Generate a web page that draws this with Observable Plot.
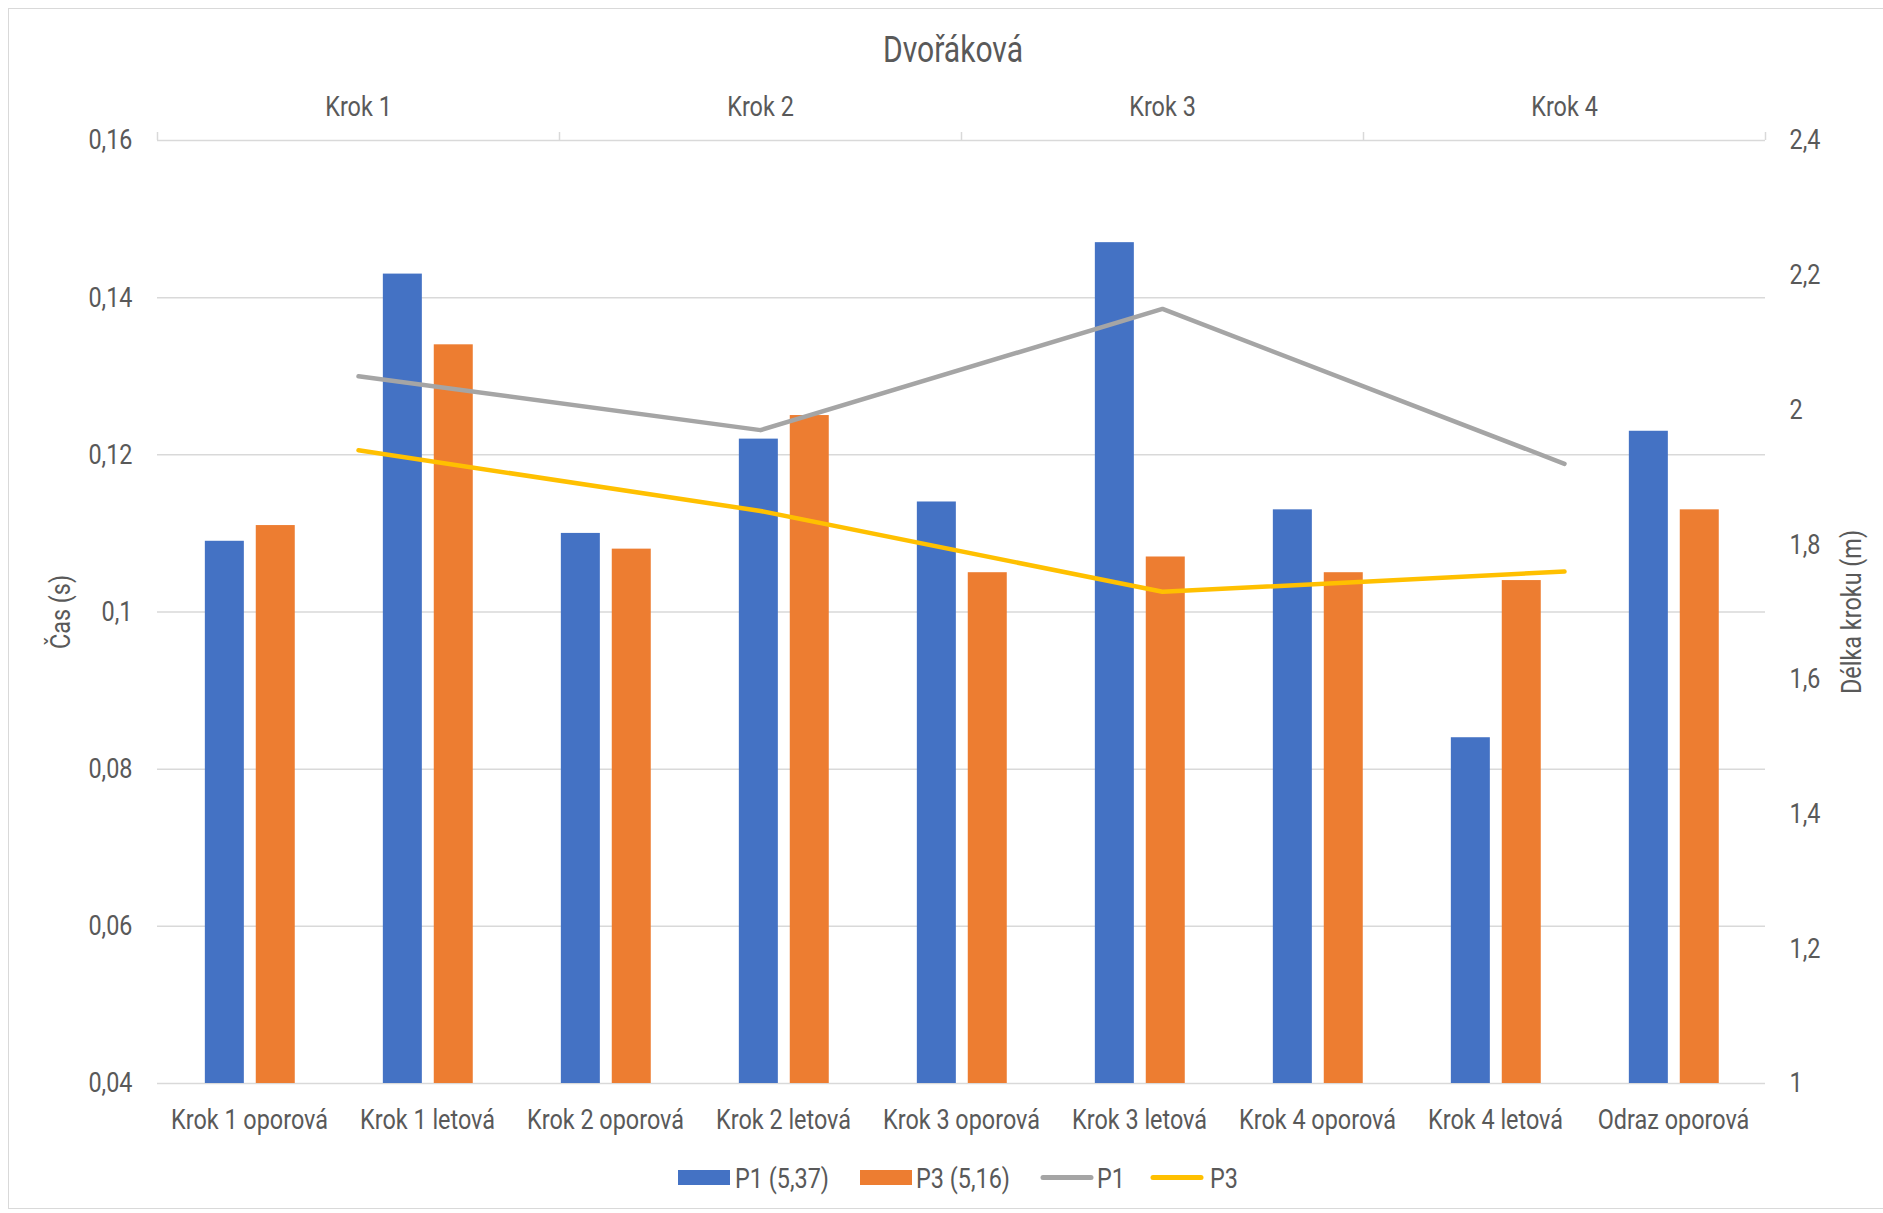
<!DOCTYPE html>
<html>
<head>
<meta charset="utf-8">
<script src="https://cdn.jsdelivr.net/npm/d3@7"></script>
<script src="https://cdn.jsdelivr.net/npm/@observablehq/plot@0.6"></script>
<style>
  html, body { margin: 0; padding: 0; background: #ffffff; }
  #chart { position: relative; width: 1883px; height: 1213px; overflow: hidden; background: #ffffff; }
  #frame { position: absolute; left: 8px; top: 8px; width: 1900px; height: 1201px; border: 1.5px solid #d9d9d9; box-sizing: border-box; }
  .layer { position: absolute; left: 0; top: 0; }
  svg text { font-weight: 400; }
</style>
</head>
<body>
<div id="chart">
  <div id="frame"></div>
  <div id="bars" class="layer"></div>
  <div id="lines" class="layer"></div>
  <div id="extras" class="layer"></div>
</div>
<script>
// ---- data ----
const categories = ["Krok 1 oporová", "Krok 1 letová", "Krok 2 oporová", "Krok 2 letová", "Krok 3 oporová",
                    "Krok 3 letová", "Krok 4 oporová", "Krok 4 letová", "Odraz oporová"];
const p1Times = [0.109, 0.143, 0.110, 0.122, 0.114, 0.147, 0.113, 0.084, 0.123];
const p3Times = [0.111, 0.134, 0.108, 0.125, 0.105, 0.107, 0.105, 0.104, 0.113];
const steps = ["Krok 1", "Krok 2", "Krok 3", "Krok 4"];
const p1Length = [2.05, 1.97, 2.15, 1.92];
const p3Length = [1.94, 1.85, 1.73, 1.76];
const leftTicks = [0.04, 0.06, 0.08, 0.10, 0.12, 0.14, 0.16];
const rightTicks = [1, 1.2, 1.4, 1.6, 1.8, 2, 2.2, 2.4];
const titleText = "Dvořáková";
const seriesNames = ["P1 (5,37)", "P3 (5,16)", "P1", "P3"];
const seriesColors = ["#4472c4", "#ed7d31", "#a5a5a5", "#ffc000"];

// ---- layout ----
const W = 1883, H = 1213;
const mL = 157, mR = 118, mT = 140, mB = 130;
const fontFamily = "Roboto, 'DejaVu Sans Condensed', sans-serif";
const textColor = "#595959";
const fmt = d => String(+d.toFixed(3)).replace(".", ",");
const band = (W - mL - mR) / categories.length;
const stepW = (W - mL - mR) / steps.length;
const yMin = leftTicks[0];

// condensed look: measure a sample and squeeze all text horizontally
function measure(str, size) {
  const svg = d3.select("body").append("svg").attr("width", 10).attr("height", 10);
  const t = svg.append("text").attr("font-family", fontFamily).attr("font-size", size)
    .attr("font-weight", 400).text(str);
  const L = t.node().getComputedTextLength();
  svg.remove();
  return L;
}
const squeeze = 157 / measure("Krok 1 oporová", 28);
function narrow(root) {
  root.querySelectorAll("text").forEach(t => {
    const L = t.getComputedTextLength();
    if (L > 0) {
      t.setAttribute("textLength", (L * squeeze).toFixed(2));
      t.setAttribute("lengthAdjust", "spacingAndGlyphs");
    }
  });
}

const barRows = categories.map((c, i) => ({category: c, p1: p1Times[i], p3: p3Times[i]}));
const lineRows = steps.map((s, i) => ({step: s, p1: p1Length[i], p3: p3Length[i]}));

const barsPlot = Plot.plot({
  width: W, height: H,
  marginLeft: mL, marginRight: mR, marginTop: mT, marginBottom: mB,
  style: {fontFamily, fontSize: "28px", color: textColor, background: "transparent"},
  x: {type: "band", domain: categories, padding: 0, axis: null},
  y: {domain: [leftTicks[0], leftTicks[leftTicks.length - 1]], axis: null},
  marks: [
    Plot.ruleY(leftTicks, {stroke: "#d9d9d9", strokeWidth: 1.5}),
    Plot.barY(barRows, {x: "category", y1: () => yMin, y2: "p1", fill: seriesColors[0],
      insetLeft: band * 0.251, insetRight: band * 0.527}),
    Plot.barY(barRows, {x: "category", y1: () => yMin, y2: "p3", fill: seriesColors[1],
      insetLeft: band * 0.536, insetRight: band * 0.242}),
    Plot.axisY({ticks: leftTicks, tickFormat: fmt, tickSize: 0, tickPadding: 25,
      label: "Čas (s)", labelAnchor: "center", labelOffset: 107, labelArrow: "none"}),
    Plot.axisX({anchor: "bottom", tickSize: 0, tickPadding: 26, label: null})
  ]
});
document.getElementById("bars").appendChild(barsPlot);

const yTop = rightTicks[rightTicks.length - 1];
const linesPlot = Plot.plot({
  width: W, height: H,
  marginLeft: mL, marginRight: mR, marginTop: mT, marginBottom: mB,
  style: {fontFamily, fontSize: "28px", color: textColor, background: "transparent"},
  x: {type: "point", domain: steps, padding: 0.5, axis: null},
  y: {domain: [rightTicks[0], yTop], axis: null},
  marks: [
    Plot.ruleX(steps, {x: d => d, y1: yTop, y2: yTop, dx: -stepW / 2, insetTop: -8, stroke: "#d9d9d9", strokeWidth: 1.5}),
    Plot.ruleX([steps[steps.length - 1]], {x: d => d, y1: yTop, y2: yTop, dx: stepW / 2, insetTop: -8, stroke: "#d9d9d9", strokeWidth: 1.5}),
    Plot.line(lineRows, {x: "step", y: "p1", stroke: seriesColors[2], strokeWidth: 4.5,
      strokeLinecap: "round", strokeLinejoin: "round"}),
    Plot.line(lineRows, {x: "step", y: "p3", stroke: seriesColors[3], strokeWidth: 4.5,
      strokeLinecap: "round", strokeLinejoin: "round"}),
    Plot.axisX({anchor: "top", tickSize: 0, tickPadding: 25, label: null}),
    Plot.axisY({anchor: "right", ticks: rightTicks, tickFormat: fmt, tickSize: 0, tickPadding: 24,
      label: "Délka kroku (m)", labelAnchor: "center", labelOffset: 95, labelArrow: "none"})
  ]
});
document.getElementById("lines").appendChild(linesPlot);

// ---- title and legend ----
const extras = d3.select("#extras").append("svg").attr("width", W).attr("height", H)
  .attr("font-family", fontFamily).attr("fill", textColor);
extras.append("text").attr("x", 953).attr("y", 62).attr("text-anchor", "middle")
  .attr("font-size", 36).text(titleText);
const legendSwatchX = [678, 860, 1040, 1150];
const legendTextX = [735, 916, 1097, 1210];
seriesNames.forEach((name, i) => {
  if (i < 2) {
    extras.append("rect").attr("x", legendSwatchX[i]).attr("y", 1170).attr("width", 52).attr("height", 15)
      .attr("fill", seriesColors[i]);
  } else {
    extras.append("line").attr("x1", legendSwatchX[i] + 3).attr("x2", legendSwatchX[i] + 51)
      .attr("y1", 1177.5).attr("y2", 1177.5).attr("stroke", seriesColors[i]).attr("stroke-width", 5)
      .attr("stroke-linecap", "round");
  }
  extras.append("text").attr("x", legendTextX[i]).attr("y", 1188).attr("font-size", 28).text(name);
});

narrow(barsPlot);
narrow(linesPlot);
narrow(extras.node());
</script>
</body>
</html>
